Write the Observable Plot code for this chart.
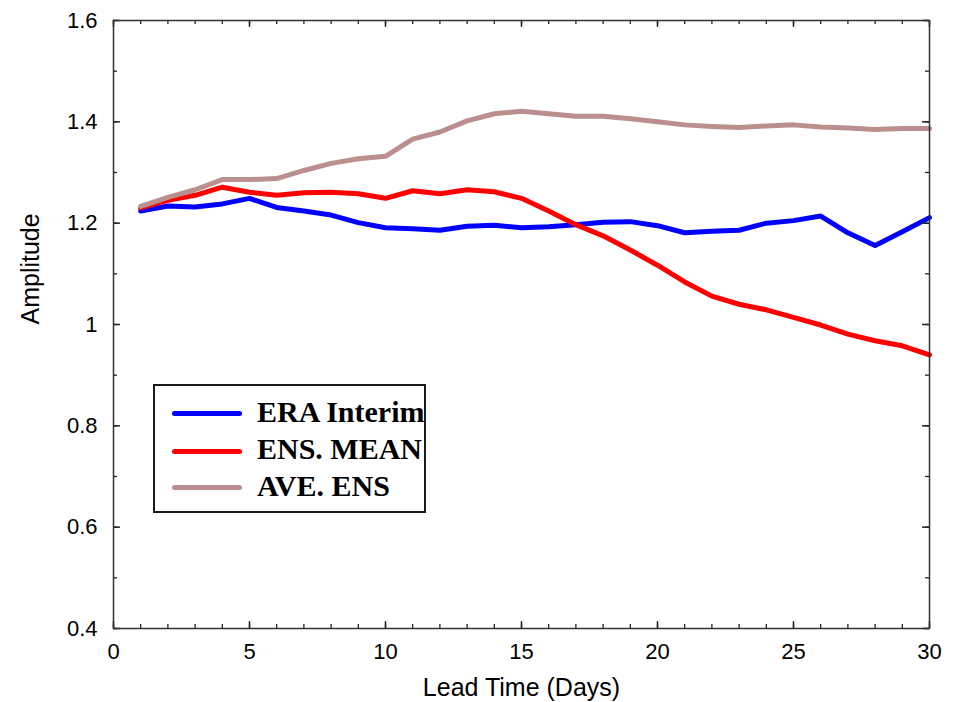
<!DOCTYPE html>
<html>
<head>
<meta charset="utf-8">
<script src="https://cdn.jsdelivr.net/npm/d3@7"></script>
<script src="https://cdn.jsdelivr.net/npm/@observablehq/plot@0.6"></script>
<style>
  html, body { margin: 0; padding: 0; background: #fff; }
  #wrap { position: relative; width: 957px; height: 702px; overflow: hidden; }
  #legend {
    position: absolute; left: 153px; top: 384px; width: 269px; height: 125px;
    border: 2px solid #1a1a1a; background: #fff; box-sizing: content-box;
    font-family: "Liberation Serif", "Times New Roman", serif; font-weight: bold; font-size: 30px;
  }
  .row { position: absolute; left: 0; height: 0; }
  .sw { position: absolute; left: 17px; width: 70px; height: 5px; border-radius: 3px; margin-top: -2.5px; }
  .lbl { position: absolute; left: 102px; white-space: nowrap; line-height: 30px; top: -17px; color: #000; }
</style>
</head>
<body>
<div id="wrap"><div id="chart"></div>
  <div id="legend"></div>
</div>
<script>
const days = [1,2,3,4,5,6,7,8,9,10,11,12,13,14,15,16,17,18,19,20,21,22,23,24,25,26,27,28,29,30];
const eraInterim = [1.224,1.234,1.232,1.238,1.249,1.231,1.224,1.216,1.201,1.191,1.189,1.186,1.194,1.196,1.191,1.193,1.197,1.202,1.203,1.195,1.181,1.184,1.186,1.200,1.205,1.214,1.181,1.156,1.183,1.211];
const ensMean = [1.230,1.245,1.255,1.271,1.261,1.255,1.260,1.261,1.258,1.249,1.264,1.258,1.266,1.262,1.249,1.224,1.197,1.175,1.147,1.117,1.084,1.056,1.040,1.029,1.014,0.999,0.981,0.968,0.958,0.940];
const aveEns = [1.233,1.251,1.266,1.286,1.286,1.288,1.304,1.318,1.327,1.332,1.366,1.380,1.402,1.416,1.421,1.416,1.411,1.411,1.406,1.400,1.394,1.391,1.389,1.392,1.394,1.390,1.388,1.385,1.387,1.387];
const seriesNames = ["ERA Interim", "ENS. MEAN", "AVE. ENS"];
const seriesColors = ["#0000ff", "#ff0000", "#bc8f8f"];
const xMajorTicks = [0,5,10,15,20,25,30];
const xMinorTicks = [0,1,2,3,4,5,6,7,8,9,10,11,12,13,14,15,16,17,18,19,20,21,22,23,24,25,26,27,28,29,30];
const yMajorTicks = [0.4,0.6,0.8,1,1.2,1.4,1.6];
const yMinorTicks = [0.4,0.5,0.6,0.7,0.8,0.9,1,1.1,1.2,1.3,1.4,1.5,1.6];
const xLabel = "Lead Time (Days)";
const yLabel = "Amplitude";

const allSeries = [eraInterim, ensMean, aveEns];
const rows = [];
allSeries.forEach((vals, si) => days.forEach((d, i) => rows.push({day: d, value: vals[i], series: seriesNames[si]})));

const W = 957, H = 702, mL = 113, mR = 28, mT = 20, mB = 74;
const innerW = W - mL - mR, innerH = H - mT - mB;
const major = 7, minor = 4;
const tickStroke = "#222";

const marks = [];
seriesNames.forEach((name, si) => {
  marks.push(Plot.line(rows.filter(r => r.series === name), {
    x: "day", y: "value", stroke: seriesColors[si], strokeWidth: 5,
    strokeLinejoin: "round", strokeLinecap: "round"
  }));
});
marks.push(Plot.ruleX(xMinorTicks, {x: d => d, insetTop: innerH - minor, stroke: tickStroke, strokeWidth: 1.3}));
marks.push(Plot.ruleX(xMinorTicks, {x: d => d, insetBottom: innerH - minor, stroke: tickStroke, strokeWidth: 1.3}));
marks.push(Plot.ruleX(xMajorTicks, {x: d => d, insetTop: innerH - major, stroke: tickStroke, strokeWidth: 1.5}));
marks.push(Plot.ruleX(xMajorTicks, {x: d => d, insetBottom: innerH - major, stroke: tickStroke, strokeWidth: 1.5}));
marks.push(Plot.ruleY(yMinorTicks, {y: d => d, insetRight: innerW - minor, stroke: tickStroke, strokeWidth: 1.3}));
marks.push(Plot.ruleY(yMinorTicks, {y: d => d, insetLeft: innerW - minor, stroke: tickStroke, strokeWidth: 1.3}));
marks.push(Plot.ruleY(yMajorTicks, {y: d => d, insetRight: innerW - major, stroke: tickStroke, strokeWidth: 1.5}));
marks.push(Plot.ruleY(yMajorTicks, {y: d => d, insetLeft: innerW - major, stroke: tickStroke, strokeWidth: 1.5}));
marks.push(Plot.frame({stroke: "#333", strokeWidth: 1.5}));
marks.push(Plot.axisX({ticks: xMajorTicks, tickSize: 0, tickPadding: 15, label: null, fontSize: 22, tickFormat: d => String(d)}));
marks.push(Plot.axisY({ticks: yMajorTicks, tickSize: 0, tickPadding: 16, label: null, fontSize: 22, tickFormat: d => String(d)}));
marks.push(Plot.text([xLabel], {frameAnchor: "bottom", text: d => d, dy: 59, lineAnchor: "middle", fontSize: 25}));
marks.push(Plot.text([yLabel], {frameAnchor: "left", text: d => d, dx: -83, rotate: -90, lineAnchor: "middle", fontSize: 25}));

const chart = Plot.plot({
  width: W, height: H,
  marginLeft: mL, marginRight: mR, marginTop: mT, marginBottom: mB,
  x: {domain: [0, 30]},
  y: {domain: [0.4, 1.6]},
  style: {fontFamily: "'Liberation Sans', Arial, sans-serif", fontSize: "22px", color: "#000", background: "#fff"},
  marks
});
document.getElementById("chart").appendChild(chart);

const legend = document.getElementById("legend");
const rowTops = [27.7, 65, 101.7];
seriesNames.forEach((name, i) => {
  const row = document.createElement("div");
  row.className = "row";
  row.style.top = rowTops[i] + "px";
  const sw = document.createElement("div");
  sw.className = "sw";
  sw.style.background = seriesColors[i];
  const lbl = document.createElement("div");
  lbl.className = "lbl";
  lbl.textContent = name;
  row.appendChild(sw);
  row.appendChild(lbl);
  legend.appendChild(row);
});
</script>
</body>
</html>
